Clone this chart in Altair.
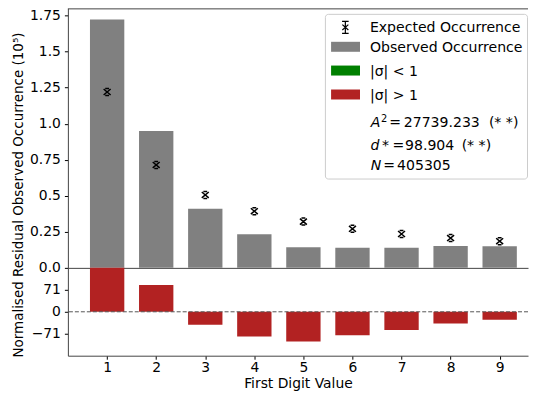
import altair as alt
import pandas as pd

# ---------------- data ----------------
digits = [1, 2, 3, 4, 5, 6, 7, 8, 9]
observed = [1.722, 0.950, 0.410, 0.233, 0.143, 0.140, 0.140, 0.152, 0.150]   # x 10^5
expected = [1.220, 0.714, 0.506, 0.393, 0.321, 0.271, 0.235, 0.207, 0.185]   # x 10^5
residual = [142, 87, -42, -80, -96, -76, -59, -38, -26]

top_ticks = [0, 0.25, 0.5, 0.75, 1.0, 1.25, 1.5, 1.75]
res_ticks = [-71, 0, 71]

legend_labels = ["Expected Occurrence", "Observed Occurrence", "|σ| < 1", "|σ| > 1"]
legend_colors = ["black", "#808080", "green", "#b22222"]
stat_A2 = "27739.233"
stat_d = "98.904"
stat_N = "405305"
signif = "(* *)"

# ---------------- styling ----------------
FONT = "DejaVu Sans"
FS = 13.9
LFS = 14.1
W, HT, HB = 461, 260, 88
OX, OY = 68, 8          # page position of the plot origin (used for legend placement)
SPINE = "#444444"
PX_PER_UNIT = 49.16

MARK_PATH = "M-1,-0.85L1,0.85M-1,0.85L1,-0.85M-0.55,-1H0.55M-0.55,1H0.55"
EB_PATH = "M0,-1V1M-0.55,-1H0.55M-0.55,1H0.55M-0.5,-0.45L0.5,0.45M-0.5,0.45L0.5,-0.45"
PATCH_PATH = "M-1,-0.345H1V0.345H-1Z"

df = pd.DataFrame(dict(digit=digits, observed=observed, expected=expected, residual=residual))
one = alt.Data(values=[{}])

xscale = alt.Scale(domain=[0.2, 0.2 + W / PX_PER_UNIT], nice=False, zero=False, padding=0)
yscale_top = alt.Scale(domain=[0, 1.8], nice=False, padding=0)
yscale_bot = alt.Scale(domain=[-142, 142], nice=False, padding=0)

x_axis_top = alt.Axis(labels=False, ticks=False, title=None, grid=False)
y_axis_top = alt.Axis(
    values=top_ticks,
    labelExpr="datum.value * 2 == round(datum.value * 2) ? format(datum.value, '.1f') : format(datum.value, '.2f')",
    title="Normalised Residual Observed Occurrence (10⁵)", titleFontSize=13.5,
    titleX=-42, titleY=186.5, titleBaseline="bottom", titleAlign="center",
    grid=False, labelPadding=4,
)
x_axis_bot = alt.Axis(values=digits, format="d", title="First Digit Value", grid=False,
                      labelPadding=1.5, titleY=32, titleBaseline="alphabetic",
                      titleAlign="center", labelFlush=False)
y_axis_bot = alt.Axis(values=res_ticks, format="d", title=None, grid=False, labelPadding=4)

base = alt.Chart(df).transform_calculate(
    left="datum.digit - 0.35", right="datum.digit + 0.35", zero="0"
)

# ---------------- top panel ----------------
obs_bars = base.mark_rect(color="#808080").encode(
    x=alt.X("left:Q", scale=xscale, axis=x_axis_top),
    x2="right:Q",
    y=alt.Y("observed:Q", scale=yscale_top, axis=y_axis_top),
    y2="zero:Q",
)
exp_pts = alt.Chart(df).mark_point(
    shape=MARK_PATH, size=49, filled=False, color="black", strokeWidth=1.5, opacity=1
).encode(
    x=alt.X("digit:Q", scale=xscale, axis=x_axis_top),
    y=alt.Y("expected:Q", scale=yscale_top, axis=y_axis_top),
)
top_spine = alt.Chart(one).mark_rule(color=SPINE, strokeWidth=1).encode(
    x=alt.value(0), x2=alt.value(W), y=alt.value(0.5)
)

# legend (drawn inside the top panel)
def px(x):
    return x - OX

def py(y):
    return y - OY

leg_layers = [
    alt.Chart(one).mark_rect(fill="white", stroke="#cccccc", strokeWidth=1, cornerRadius=3).encode(
        x=alt.value(px(326)), x2=alt.value(px(528.5)), y=alt.value(py(14)), y2=alt.value(py(179))
    ),
    alt.Chart(one).mark_point(shape=EB_PATH, size=144, filled=False, color=legend_colors[0],
                              strokeWidth=1.2, opacity=1).encode(
        x=alt.value(px(346)), y=alt.value(py(27))
    ),
]
patch_y = [46.5, 70.3, 94.3]
for c, yy in zip(legend_colors[1:], patch_y):
    leg_layers.append(
        alt.Chart(one).mark_point(shape=PATCH_PATH, size=841, filled=True, color=c, opacity=1,
                                  strokeWidth=0).encode(x=alt.value(px(346.2)), y=alt.value(py(yy)))
    )


def txt(t, x, y, size=LFS, style="normal"):
    return alt.Chart(one).mark_text(
        text=t, align="left", baseline="alphabetic", font=FONT, fontSize=size,
        fontStyle=style, color="black"
    ).encode(x=alt.value(px(x)), y=alt.value(py(y)))


row_base = [31.2, 52.0, 75.3, 99.5]
for lab, yy in zip(legend_labels, row_base):
    leg_layers.append(txt(lab, 370.6, yy))

# A^2 row
leg_layers += [
    txt("A", 371.5, 126.6, style="italic"),
    txt("2", 381.8, 121.4, size=9.9),
    txt("=", 390.0, 126.6),
    txt(stat_A2, 404.5, 126.6),
    txt(signif, 489.8, 126.6),
]
# d* row
leg_layers += [
    txt("d", 371.2, 149.8, style="italic"),
    txt("*", 382.6, 149.8),
    txt("=", 393.3, 149.8),
    txt(stat_d, 405.8, 149.8),
    txt(signif, 462.5, 149.8),
]
# N row
leg_layers += [
    txt("N", 371.5, 170.3, style="italic"),
    txt("=", 384.0, 170.3),
    txt(stat_N, 397.8, 170.3),
]

top = alt.layer(obs_bars, exp_pts, top_spine, *leg_layers).properties(width=W, height=HT)

# ---------------- bottom panel ----------------
res_bars = base.mark_rect().encode(
    x=alt.X("left:Q", scale=xscale, axis=x_axis_bot),
    x2="right:Q",
    y=alt.Y("residual:Q", scale=yscale_bot, axis=y_axis_bot),
    y2="zero:Q",
    color=alt.condition("abs(datum.residual) > 1", alt.value("#b22222"), alt.value("green")),
)
zero_line = alt.Chart(pd.DataFrame({"z": [0]})).mark_rule(
    color="#555555", strokeDash=[4, 2], strokeWidth=1
).encode(y=alt.Y("z:Q", scale=yscale_bot, axis=y_axis_bot))

bottom = alt.layer(res_bars, zero_line).properties(width=W, height=HB)

chart = alt.vconcat(
    top, bottom, spacing=0, bounds="flush",
    padding={"left": 4, "top": 0, "right": 0, "bottom": 0},
).configure(font=FONT).configure_view(stroke=None).configure_axis(
    labelFont=FONT, labelFontSize=FS, labelColor="black",
    titleFont=FONT, titleFontSize=FS, titleFontWeight="normal", titleColor="black",
    tickColor="black", tickSize=3.5, tickWidth=1,
    domainColor=SPINE, domainWidth=1,
)

chart.save("out.html", embed_options={"renderer": "svg", "actions": False})
